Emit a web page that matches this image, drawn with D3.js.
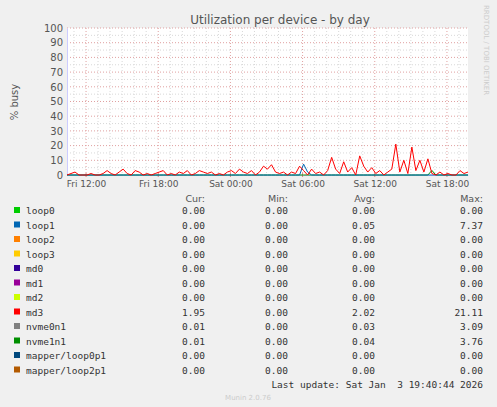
<!DOCTYPE html>
<html><head><meta charset="utf-8">
<script src="https://cdn.jsdelivr.net/npm/d3@7"></script>
<style>body{margin:0;background:#f0f0f0}text{font-family:"DejaVu Sans",sans-serif}</style>
</head><body><svg id="c" width="497" height="407"></svg>
<script>
// data: one sample every 20 minutes starting Fri 10:25
var startTime = new Date(2026, 0, 2, 10, 25);
var md3 = [0,1,2,0,0,0,1,0,0,1,3,1,0,2,4,1,0,3,2,0,1,0,1,2,3,0,1,0,2,1,3,0,1,3,2,1,2,0,1,0,2,3,1,4,2,1,3,0,2,6,4,7,2,1,2,0,2,1,6,3,0,4,1,2,0,3,12,4,1,9,2,5,0,13,6,2,5,1,3,0,2,4,21,2,10,1,19,3,10,2,11,1,0,2,0,1,0,0,3,1,2];
var loop1 = md3.map(function(d,i){return i===59?7.4:i===60?2:0});
var nvme0n1 = md3.map(function(d,i){return i===91?3.1:0});
var yTicks = [0,10,20,30,40,50,60,70,80,90,100];
var legendNames = ["loop0","loop1","loop2","loop3","md0","md1","md2","md3","nvme0n1","nvme1n1","mapper/loop0p1","mapper/loop2p1"];
var legendColors = ["#00cc00","#0066b3","#ff8000","#ffcc00","#330099","#990099","#ccff00","#ff0000","#808080","#008f00","#00487d","#b35a00"];
var cur = ["0.00","0.00","0.00","0.00","0.00","0.00","0.00","1.95","0.01","0.01","0.00","0.00"];
var mins = ["0.00","0.00","0.00","0.00","0.00","0.00","0.00","0.00","0.00","0.00","0.00","0.00"];
var avg = ["0.00","0.05","0.00","0.00","0.00","0.00","0.00","2.02","0.03","0.04","0.00","0.00"];
var maxs = ["0.00","7.37","0.00","0.00","0.00","0.00","0.00","21.11","3.09","3.76","0.00","0.00"];

var svg = d3.select("#c");
var L=67,R=468,T=28,B=175;
var times = md3.map(function(d,i){return new Date(+startTime + i*20*60000)});
var x = d3.scaleTime().domain([startTime, times[times.length-1]]).range([L,R]);
var y = d3.scaleLinear().domain([0,100]).range([B,T]);
svg.append("rect").attr("x",L).attr("y",T).attr("width",R-L).attr("height",B-T).attr("fill","#fff");
// minor grid
var hours = d3.timeHour.range(startTime, times[times.length-1]);
svg.selectAll(".vg").data(hours).enter().append("line")
  .attr("x1",x).attr("x2",x).attr("y1",T).attr("y2",B)
  .attr("stroke", function(d){return d.getHours()%6===0?"#e0a0a0":"#d8d8d8"})
  .attr("stroke-dasharray","1,2");
svg.selectAll(".hg").data(d3.range(5,101,5)).enter().append("line")
  .attr("x1",L).attr("x2",R).attr("y1",y).attr("y2",y)
  .attr("stroke", function(d){return d%10===0?"#e0a0a0":"#d8d8d8"})
  .attr("stroke-dasharray","1,2");
// axes
svg.append("g").attr("transform","translate("+L+",0)")
  .call(d3.axisLeft(y).tickValues(yTicks).tickSize(0).tickPadding(4))
  .call(function(g){g.select(".domain").attr("stroke","#ccccff");g.selectAll("text").attr("fill","#555").style("font-size","10px")});
svg.append("g").attr("transform","translate(0,"+B+")")
  .call(d3.axisBottom(x).ticks(d3.timeHour.every(6)).tickSize(0).tickPadding(6)
  .tickFormat(function(d){return d3.timeFormat("%a %H:%M")(d)}))
  .call(function(g){g.select(".domain").attr("stroke","#ccccff");g.selectAll("text").attr("fill","#555").style("font-size","9px")});
svg.selectAll(".tk").data(d3.timeHour.every(6).range(startTime,times[times.length-1])).enter()
  .append("line").attr("x1",x).attr("x2",x).attr("y1",B-2).attr("y2",B+2).attr("stroke","#e08080");
// lines
[[nvme0n1,"#008f00"],[loop1,"#0066b3"],[md3,"#ff0000"]].forEach(function(s){
  svg.append("path").datum(s[0]).attr("fill","none").attr("stroke",s[1]).attr("stroke-width",1)
    .attr("d", d3.line().x(function(d,i){return x(times[i])}).y(function(d){return y(d)}));
});
// titles
svg.append("text").attr("x",280).attr("y",24).attr("text-anchor","middle").attr("fill","#555").style("font-size","12px").text("Utilization per device - by day");
svg.append("text").attr("transform","translate(18,102) rotate(-90)").attr("text-anchor","middle").attr("fill","#555").style("font-size","10px").text("% busy");
svg.append("text").attr("transform","translate(484,5) rotate(90)").attr("fill","#ccc").style("font-size","7px").text("RRDTOOL / TOBI OETIKER");
// legend
var hdr = [["Cur:",205],["Min:",288],["Avg:",375],["Max:",483]];
hdr.forEach(function(h){svg.append("text").attr("x",h[1]).attr("y",202).attr("text-anchor","end").attr("fill","#555").style("font-size","9.5px").text(h[0])});
var cols = [cur,mins,avg,maxs];
legendNames.forEach(function(n,i){
  var yy = 214 + i*14.5;
  svg.append("rect").attr("x",14).attr("y",yy-7).attr("width",6).attr("height",6).attr("fill",legendColors[i]);
  svg.append("text").attr("x",26).attr("y",yy).attr("fill","#333").style("font-family","DejaVu Sans Mono").style("font-size","9.5px").text(n);
  cols.forEach(function(c,j){
    svg.append("text").attr("x",hdr[j][1]).attr("y",yy).attr("text-anchor","end").attr("fill","#333").style("font-family","DejaVu Sans Mono").style("font-size","9.5px").text(c[i]);
  });
});
svg.append("text").attr("x",483).attr("y",388).attr("text-anchor","end").attr("fill","#333").style("white-space","pre").style("font-family","DejaVu Sans Mono").style("font-size","9.5px").text("Last update: Sat Jan  3 19:40:44 2026");
svg.append("text").attr("x",248).attr("y",400).attr("text-anchor","middle").attr("fill","#ccc").style("font-size","7px").text("Munin 2.0.76");
</script></body></html>
